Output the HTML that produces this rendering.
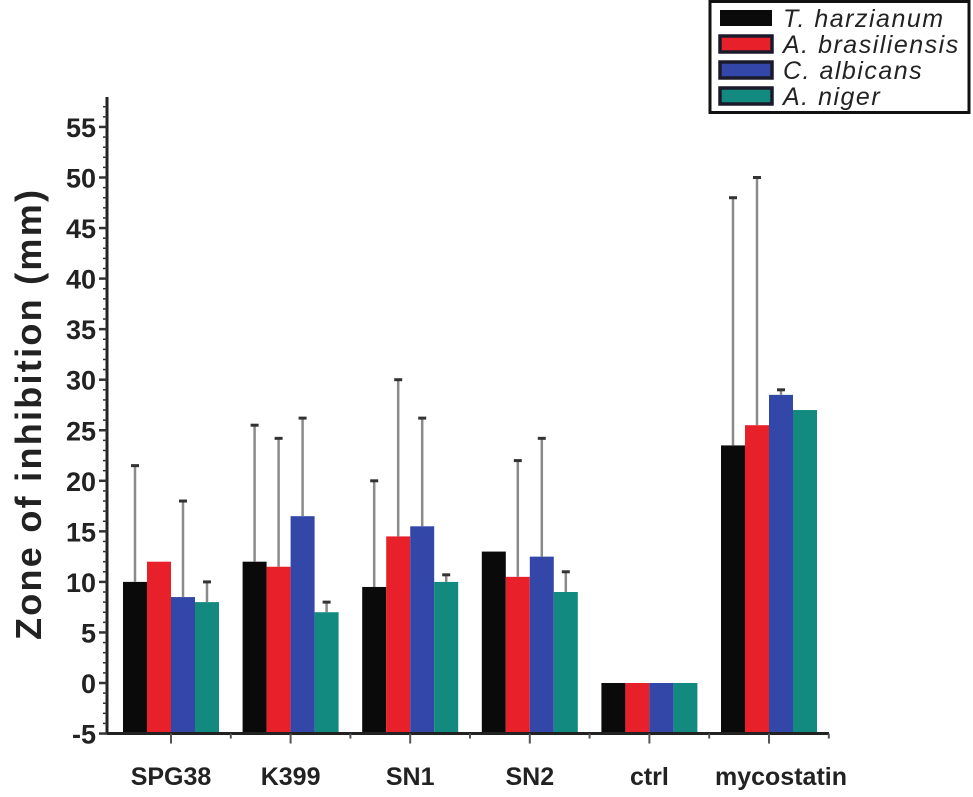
<!DOCTYPE html>
<html><head><meta charset="utf-8"><style>
body{margin:0;background:#fff;}
svg{display:block;font-family:"Liberation Sans",sans-serif;}
</style></head><body>
<svg id="chart" width="973" height="797" viewBox="0 0 973 797"></svg>
<script>
const categories=["SPG38","K399","SN1","SN2","ctrl","mycostatin"];
const seriesNames=["T. harzianum","A. brasiliensis","C. albicans","A. niger"];
const seriesColors=["#0a0a0a","#e8202a","#3347a8","#128a80"];
const harzianum=[10,12,9.5,13,0,23.5];
const brasiliensis=[12,11.5,14.5,10.5,0,25.5];
const albicans=[8.5,16.5,15.5,12.5,0,28.5];
const niger=[8,7,10,9,0,27];
const errHarzianum=[21.5,25.5,20,null,null,48];
const errBrasiliensis=[null,24.2,30,22,null,50];
const errAlbicans=[18,26.2,26.2,24.2,null,29];
const errNiger=[10,8,10.7,11,null,null];
const yTicks=[-5,0,5,10,15,20,25,30,35,40,45,50,55];

const NS="http://www.w3.org/2000/svg";
const svg=document.getElementById('chart');
function el(t,a,p){const e=document.createElementNS(NS,t);for(const k in a)e.setAttribute(k,a[k]);(p||svg).appendChild(e);return e;}
const y=v=>683-v*10.11;
const x0=171,gap=119.6,bw=24;
const gx=i=>x0+gap*i;
const bx=(i,s)=>gx(i)-48+s*bw;
const base=y(-5);
const vals=[harzianum,brasiliensis,albicans,niger];
const errs=[errHarzianum,errBrasiliensis,errAlbicans,errNiger];

vals.forEach((arr,s)=>{arr.forEach((v,i)=>{
  const r=el('rect',{x:bx(i,s),y:y(v),width:bw,height:base-y(v),fill:seriesColors[s]});
  
  
});});
errs.forEach((arr,s)=>{arr.forEach((e,i)=>{
  if(e==null)return;
  const cx=bx(i,s)+bw/2;
  const g=el('g',{});
  
  
  el('line',{x1:cx,x2:cx,y1:y(vals[s][i]),y2:y(e),stroke:'#8a8a8a','stroke-width':2.5},g);
  el('line',{x1:cx-4,x2:cx+4,y1:y(e),y2:y(e),stroke:'#333','stroke-width':3},g);
});});
const ax=el('g',{});


el('line',{x1:107,x2:107,y1:97,y2:base,stroke:'#222','stroke-width':3},ax);
for(let v=-5;v<=57;v++){
  const major=v%5===0;
  el('line',{x1:major?99:103,x2:107,y1:y(v),y2:y(v),stroke:'#333','stroke-width':major?2.5:1.5},ax);
}
yTicks.forEach(v=>{
  const t=el('text',{x:96,y:y(v)+10,'text-anchor':'end','font-size':27,'font-weight':'bold',fill:'#222'},ax);
  t.textContent=v;
  
  
});
const yt=el('text',{x:0,y:0,transform:'translate(41,415) rotate(-90)','text-anchor':'middle','font-size':36,'font-weight':'bold',fill:'#222',textLength:450,lengthAdjust:'spacing'});
yt.textContent='Zone of inhibition (mm)';


const xa=el('g',{});


el('line',{x1:107,x2:gx(5)+60,y1:base,y2:base,stroke:'#222','stroke-width':3},xa);
categories.forEach((c,i)=>{
  el('line',{x1:gx(i),x2:gx(i),y1:base,y2:base+10,stroke:'#555','stroke-width':2},xa);
  el('line',{x1:gx(i)+gap/2,x2:gx(i)+gap/2,y1:base,y2:base+5,stroke:'#555','stroke-width':2},xa);
  const t=el('text',{x:gx(i)+(i===5?12:0),y:785,'text-anchor':'middle','font-size':25,'font-weight':'bold',fill:'#222'},xa);
  t.textContent=c;
  
  
});
const lg=el('g',{});


el('rect',{x:710,y:1.5,width:259,height:111,fill:'#fff',stroke:'#111','stroke-width':3},lg);
seriesNames.forEach((n,s)=>{
  const ry=10+s*26;
  const g=el('g',{},lg);
  
  
  el('rect',{x:720,y:ry,width:52,height:16,fill:seriesColors[s],stroke:'#1a1a2a','stroke-width':s?3.5:0},g);
  const t=el('text',{x:783,y:ry+17,'font-size':25,'font-style':'italic',fill:'#222','letter-spacing':'1.5px'},g);
  t.textContent=n;
});
</script>
</body></html>
